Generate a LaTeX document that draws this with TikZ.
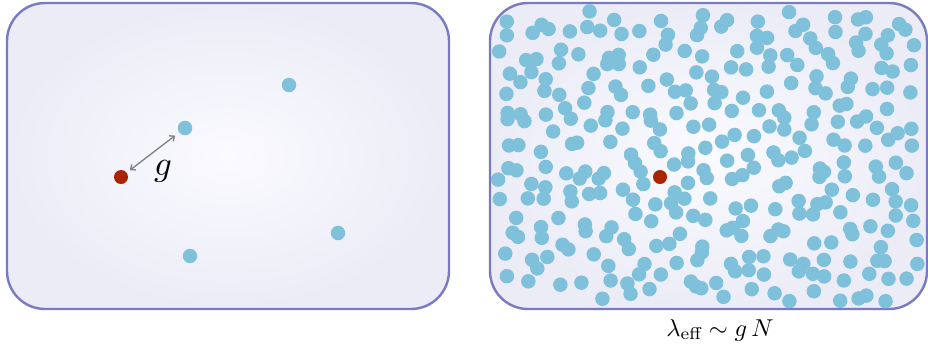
\documentclass[tikz,border=0pt]{standalone}
\usepackage{amsmath}
\usetikzlibrary{arrows.meta,positioning}
\definecolor{xframe}{RGB}{122,122,192}
\definecolor{xglow}{RGB}{250,250,255}
\definecolor{xhaze}{RGB}{236,236,247}
\definecolor{xsky}{RGB}{127,193,218}
\definecolor{xember}{RGB}{170,36,0}
\definecolor{xslate}{RGB}{128,128,128}

\begin{document}
\begin{tikzpicture}[
  x=1bp, y=-1bp,
  panel/.style={
    draw=xframe, line width=2.4bp, rounded corners=38bp,
    inner color=xglow, outer color=xhaze,
    minimum width=#1, minimum height=306bp
  },
  bath/.style={circle, fill=xsky, inner sep=0pt, minimum size=14.5bp},
  probe/.style={circle, fill=xember, inner sep=0pt, minimum size=14bp},
  link/.style={{Straight Barb[length=4bp,width=7bp]}-{Straight Barb[length=4bp,width=7bp]},
               line width=1.3bp, color=xslate, shorten <=4bp, shorten >=5bp},
  coupling/.style={anchor=base, scale=3.5, inner sep=0pt},
  scaling/.style={anchor=base, scale=2.45, inner sep=0pt}
]
  \useasboundingbox (0,0) rectangle (928,354);

  \node[panel=442bp] (sparse) at (228,156) {};
  \node[panel=437bp] (dense)  at (708.5,156) {};

  % few partners
  \node[bath] (b1) at (185,128) {};
  \node[bath] (b2) at (289,85)  {};
  \node[bath] (b3) at (338,233) {};
  \node[bath] (b4) at (190,256) {};
  \node[probe] (src) at (121,177) {};
  \draw[link] (src) -- (b1);
  \node[coupling] (glabel) at (163,175) {$g$};

  % crowded bath, jittered grid
  \pgfmathsetseed{4242}
  \foreach \i in {0,...,20}{
    \foreach \j in {0,...,15}{
      \pgfmathsetmacro\px{504+20.5*\i+9*rand}
      \pgfmathsetmacro\py{16+18.6*\j+9*rand}
      \pgfmathsetmacro\cx{max(abs(\px-708.5)-180.5,0)}
      \pgfmathsetmacro\cy{max(abs(\py-156)-115,0)}
      \pgfmathtruncatemacro\drop{or(veclen(\px-660,\py-177)<16, veclen(\cx,\cy)>31)}
      \ifnum\drop=0 \node[bath] (n\i-\j) at (\px,\py) {};\fi
    }
  }
  \node[probe] (core) at (660,177) {};

  \node[scaling] (law) at (720,336) {$\lambda_{\text{eff}} \sim g\,N$};
\end{tikzpicture}
\end{document}
